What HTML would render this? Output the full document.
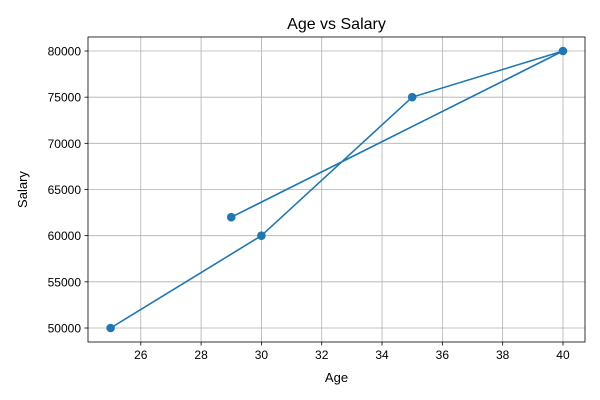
<!DOCTYPE html>
<html><head><meta charset="utf-8">
<style>
html,body{margin:0;padding:0;background:#fff;}
svg{display:block;font-family:"Liberation Sans","DejaVu Sans",sans-serif;}
</style></head>
<body>
<svg id="chart" width="600" height="400"></svg>
<script>
const ages = [25, 30, 35, 40, 29];
const salaries = [50000, 60000, 75000, 80000, 62000];
const xTicks = [26, 28, 30, 32, 34, 36, 38, 40];
const yTicks = [50000, 55000, 60000, 65000, 70000, 75000, 80000];

const L = 88, R = 585, T = 37, B = 342;
const xMin = 24.25, xMax = 40.73, yMin = 48484, yMax = 81516;
const sx = v => L + (v - xMin) / (xMax - xMin) * (R - L);
const sy = v => B - (v - yMin) / (yMax - yMin) * (B - T);
const NS = "http://www.w3.org/2000/svg";
const svg = document.getElementById('chart');
function mk(tag, attrs, parent) {
  const e = document.createElementNS(NS, tag);
  for (const k in attrs) e.setAttribute(k, attrs[k]);
  (parent || svg).appendChild(e);
  return e;
}
const grid = mk('g', {});


xTicks.forEach(t => {
  const x = sx(t);
  const gl = mk('line', {x1: x, x2: x, y1: T, y2: B, stroke: '#b0b0b0', 'stroke-width': 0.8}, grid);
  
  
  mk('line', {x1: x, x2: x, y1: B, y2: B + 3.5, stroke: '#000', 'stroke-width': 0.8});
  const tx = mk('text', {x: x, y: B + 17, 'font-size': 12, 'text-anchor': 'middle', fill: '#000'});
  tx.textContent = t;
  
  
});
yTicks.forEach(t => {
  const y = sy(t);
  const gl = mk('line', {x1: L, x2: R, y1: y, y2: y, stroke: '#b0b0b0', 'stroke-width': 0.8}, grid);
  
  
  mk('line', {x1: L - 3.5, x2: L, y1: y, y2: y, stroke: '#000', 'stroke-width': 0.8});
  const tx = mk('text', {x: L - 7, y: y + 4.5, 'font-size': 12, 'text-anchor': 'end', fill: '#000'});
  tx.textContent = t;
  
  
});
const pts = ages.map((a, i) => sx(a) + ',' + sy(salaries[i])).join(' ');
const line = mk('polyline', {points: pts, fill: 'none', stroke: '#1f77b4', 'stroke-width': 1.6});


ages.forEach((a, i) => {
  const c = mk('circle', {cx: sx(a), cy: sy(salaries[i]), r: 4.3, fill: '#1f77b4'});
  
  
});
const frame = mk('rect', {x: L, y: T, width: R - L, height: B - T, fill: 'none', stroke: '#000', 'stroke-width': 0.8});


const title = mk('text', {x: (L + R) / 2, y: 29, 'font-size': 16, 'text-anchor': 'middle', fill: '#000'});
title.textContent = 'Age vs Salary';


const xl = mk('text', {x: (L + R) / 2, y: 382, 'font-size': 13, 'text-anchor': 'middle', fill: '#000'});
xl.textContent = 'Age';


const yl = mk('text', {x: 27, y: (T + B) / 2, 'font-size': 13, 'text-anchor': 'middle', fill: '#000', transform: 'rotate(-90 27 ' + (T + B) / 2 + ')'});
yl.textContent = 'Salary';


</script>
</body></html>
